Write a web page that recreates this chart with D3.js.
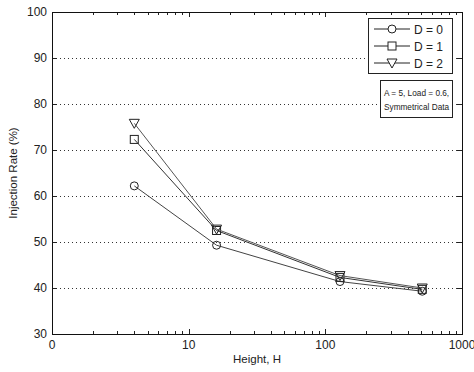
<!DOCTYPE html>
<html>
<head>
<meta charset="utf-8">
<script src="https://cdn.jsdelivr.net/npm/d3@7"></script>
<style>
  body { margin: 0; background: #fff; }
  text { font-family: "Liberation Sans", Arial, sans-serif; fill: #222; }
  .narrow { font-family: "Liberation Sans Narrow", "Arial Narrow", "Liberation Sans", sans-serif; }
</style>
</head>
<body>
<svg id="chart"></svg>
<script>
// data
const heights = [4, 16, 128, 512];
const seriesNames = ["D = 0", "D = 1", "D = 2"];
const rateD0 = [62.2, 49.3, 41.4, 39.3];
const rateD1 = [72.3, 52.5, 42.3, 39.7];
const rateD2 = [75.8, 52.8, 42.7, 40.0];
const xTicks = [1, 10, 100, 1000];
const xTickLabels = ["0", "10", "100", "1000"];
const yTicks = [30, 40, 50, 60, 70, 80, 90, 100];
const noteLines = ["A = 5, Load = 0.6,", "Symmetrical Data"];

const width = 474, height = 372;
const margin = {top: 12, right: 12, bottom: 38, left: 52};
const innerW = width - margin.left - margin.right;
const innerH = height - margin.top - margin.bottom;

const svg = d3.select("#chart").attr("width", width).attr("height", height);
const g = svg.append("g").attr("transform", `translate(${margin.left},${margin.top})`);

const x = d3.scaleLog().domain([1, 1000]).range([0, innerW]);
const y = d3.scaleLinear().domain([30, 100]).range([innerH, 0]);

// horizontal dotted grid
g.append("g").selectAll("line").data(yTicks.filter(d => d > 30 && d < 100)).enter().append("line")
  .attr("x1", 0).attr("x2", innerW)
  .attr("y1", d => Math.round(y(d)) + 0.5).attr("y2", d => Math.round(y(d)) + 0.5)
  .attr("stroke", "#333").attr("stroke-width", 1)
  .attr("stroke-dasharray", "1,3");

// minor ticks for log axis
const minor = [];
for (let p = 1; p < 1000; p *= 10) for (let k = 2; k <= 9; k++) minor.push(p * k);

const tickG = g.append("g").attr("stroke", "#222").attr("stroke-width", 1);
tickG.selectAll(".mb").data(minor).enter().append("line")
  .attr("x1", d => Math.round(x(d)) + 0.5).attr("x2", d => Math.round(x(d)) + 0.5)
  .attr("y1", innerH).attr("y2", innerH - 3);
tickG.selectAll(".mt").data(minor).enter().append("line")
  .attr("x1", d => Math.round(x(d)) + 0.5).attr("x2", d => Math.round(x(d)) + 0.5)
  .attr("y1", 0).attr("y2", 3);
tickG.selectAll(".xb").data(xTicks).enter().append("line")
  .attr("x1", d => Math.round(x(d)) + 0.5).attr("x2", d => Math.round(x(d)) + 0.5)
  .attr("y1", innerH).attr("y2", innerH - 5);
tickG.selectAll(".xt").data(xTicks).enter().append("line")
  .attr("x1", d => Math.round(x(d)) + 0.5).attr("x2", d => Math.round(x(d)) + 0.5)
  .attr("y1", 0).attr("y2", 5);
tickG.selectAll(".yl").data(yTicks).enter().append("line")
  .attr("x1", 0).attr("x2", 5)
  .attr("y1", d => Math.round(y(d)) + 0.5).attr("y2", d => Math.round(y(d)) + 0.5);
tickG.selectAll(".yr").data(yTicks).enter().append("line")
  .attr("x1", innerW).attr("x2", innerW - 5)
  .attr("y1", d => Math.round(y(d)) + 0.5).attr("y2", d => Math.round(y(d)) + 0.5);

// box
g.append("rect").attr("x", 0.5).attr("y", 0.5).attr("width", innerW).attr("height", innerH)
  .attr("fill", "none").attr("stroke", "#111").attr("stroke-width", 1);

// tick labels
g.append("g").selectAll("text").data(xTicks).enter().append("text")
  .attr("x", d => x(d)).attr("y", innerH + 15)
  .attr("text-anchor", "middle").attr("font-size", 12)
  .text((d, i) => xTickLabels[i]);
g.append("g").selectAll("text").data(yTicks).enter().append("text")
  .attr("x", -5).attr("y", d => y(d) + 4)
  .attr("text-anchor", "end").attr("font-size", 12)
  .text(d => d);

// axis titles
svg.append("text").attr("x", margin.left + innerW / 2).attr("y", 363)
  .attr("text-anchor", "middle").attr("font-size", 11.5).text("Height, H");
svg.append("text").attr("transform", `translate(17,${margin.top + innerH / 2}) rotate(-90)`)
  .attr("text-anchor", "middle").attr("font-size", 11.5).text("Injection Rate (%)");

// series
const series = [rateD0, rateD1, rateD2].map((vals, i) => ({
  name: seriesNames[i],
  points: heights.map((h, j) => ({h: h, v: vals[j]}))
}));
const lineColor = ["#444", "#333", "#555"];
const line = d3.line().x(d => x(d.h)).y(d => y(d.v));

function marker(sel, type) {
  if (type === 0) {
    sel.append("circle").attr("r", 4);
  } else if (type === 1) {
    sel.append("rect").attr("x", -4).attr("y", -4).attr("width", 8).attr("height", 8);
  } else {
    sel.append("path").attr("d", "M-5,-4L5,-4L0,5Z");
  }
}

series.forEach((s, i) => {
  g.append("path").datum(s.points)
    .attr("fill", "none").attr("stroke", lineColor[i]).attr("stroke-width", 1)
    .attr("d", line);
  const m = g.append("g").selectAll("g").data(s.points).enter().append("g")
    .attr("transform", d => `translate(${x(d.h)},${y(d.v)})`)
    .attr("fill", "none").attr("stroke", "#222").attr("stroke-width", 1);
  m.each(function() { marker(d3.select(this), i); });
});

// legend
const leg = svg.append("g").attr("transform", "translate(368,18)");
leg.append("rect").attr("x", 0.5).attr("y", 0.5).attr("width", 84).attr("height", 55)
  .attr("fill", "#fff").attr("stroke", "#222");
seriesNames.forEach((name, i) => {
  const row = leg.append("g").attr("transform", `translate(0,${11 + i * 17})`);
  row.append("line").attr("x1", 6).attr("x2", 42).attr("y1", 0).attr("y2", 0)
    .attr("stroke", "#222");
  const mk = row.append("g").attr("transform", "translate(24,0)")
    .attr("fill", "#fff").attr("stroke", "#222");
  marker(mk, i);
  row.append("text").attr("x", 46).attr("y", 5).attr("font-size", 12)
    .text(name);
});

// note box, text shrunk until it fits the box
const note = svg.append("g").attr("transform", "translate(380,80)");
note.append("rect").attr("x", 0.5).attr("y", 0.5).attr("width", 72).attr("height", 37)
  .attr("fill", "#fff").attr("stroke", "#222");
noteLines.forEach((t, i) => {
  const txt = note.append("text").attr("class", "narrow")
    .attr("x", 4).attr("y", 16 + i * 14).attr("font-size", 12.5).text(t);
  let fs = 12.5;
  while (txt.node().getComputedTextLength() > 66 && fs > 7) {
    fs -= 0.25;
    txt.attr("font-size", fs);
  }
});
</script>
</body>
</html>
